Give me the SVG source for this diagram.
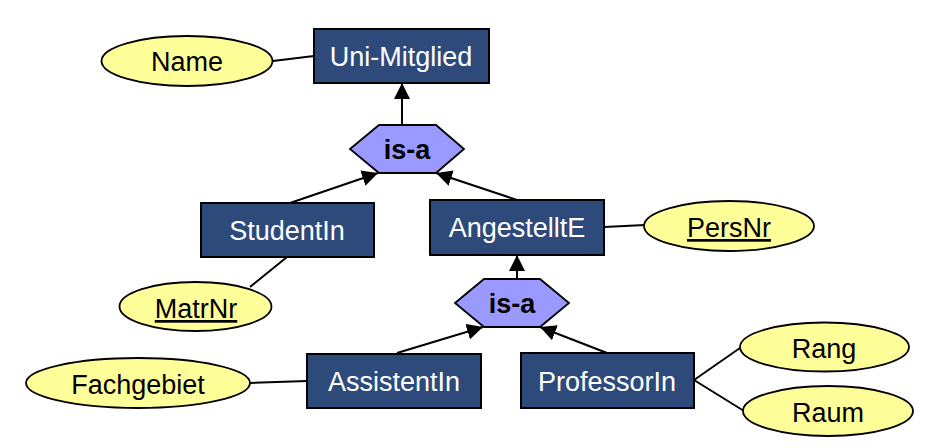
<svg xmlns="http://www.w3.org/2000/svg" width="932" height="448" viewBox="0 0 932 448">
<style>
.ent{fill:#2D4A7B;stroke:#000;stroke-width:2}
.att{fill:#FFFF99;stroke:#000;stroke-width:1.8}
.isa{fill:#9999FF;stroke:#000;stroke-width:1.8}
.lbl{font-family:"Liberation Sans",Arial,sans-serif;font-size:27px;text-anchor:middle}
.w{fill:#fff}
.b{fill:#000}
.bold{font-weight:bold}
.u{text-decoration:underline}
.con{stroke:#000;stroke-width:2;fill:none}
.arr{marker-end:url(#ah)}
</style>
<defs>
<marker id="ah" markerUnits="userSpaceOnUse" markerWidth="16" markerHeight="16" refX="16" refY="8" orient="auto">
<path d="M0,0 L16,8 L0,16 z" fill="#000"/>
</marker>
</defs>
<g id="connectors">
<line class="con" x1="273" y1="61" x2="314" y2="56"/>
<line class="con arr" x1="402" y1="125" x2="402" y2="83"/>
<line class="con arr" x1="290" y1="203" x2="378" y2="173"/>
<line class="con arr" x1="517" y1="200" x2="436" y2="173"/>
<line class="con" x1="287" y1="257" x2="250" y2="287"/>
<line class="con" x1="604" y1="227" x2="645" y2="225"/>
<line class="con arr" x1="517" y1="279" x2="517" y2="255"/>
<line class="con arr" x1="397" y1="353" x2="483" y2="327"/>
<line class="con arr" x1="607" y1="353" x2="540" y2="327"/>
<line class="con" x1="250" y1="383" x2="307" y2="381"/>
<line class="con" x1="694" y1="380" x2="740" y2="348"/>
<line class="con" x1="694" y1="380" x2="744" y2="411"/>
</g>
<g id="uni-mitglied"><rect class="ent" x="314" y="29" width="175" height="54"/><text class="lbl w" x="401" y="66">Uni-Mitglied</text></g>
<g id="name"><ellipse class="att" cx="187" cy="61" rx="85.5" ry="25"/><text class="lbl b" x="187" y="71">Name</text></g>
<g id="isa1"><polygon class="isa" points="350,149 379,125 436,125 464,149 436,173 379,173"/><text class="lbl b bold" x="407" y="159">is-a</text></g>
<g id="studentin"><rect class="ent" x="201" y="203" width="173" height="54"/><text class="lbl w" x="287" y="240">StudentIn</text></g>
<g id="angestellte"><rect class="ent" x="430" y="200" width="174" height="55"/><text class="lbl w" x="517" y="237">AngestelltE</text></g>
<g id="matrnr"><ellipse class="att" cx="195.5" cy="306.5" rx="76" ry="24.5"/><text class="lbl b u" x="196" y="318">MatrNr</text></g>
<g id="persnr"><ellipse class="att" cx="729" cy="226" rx="85" ry="25"/><text class="lbl b u" x="729" y="237">PersNr</text></g>
<g id="isa2"><polygon class="isa" points="455,303 484,279 540,279 569,303 540,327 484,327"/><text class="lbl b bold" x="512" y="313">is-a</text></g>
<g id="assistentin"><rect class="ent" x="307" y="354" width="174" height="54"/><text class="lbl w" x="394" y="391">AssistentIn</text></g>
<g id="professorin"><rect class="ent" x="521" y="353" width="173" height="55"/><text class="lbl w" x="607" y="391">ProfessorIn</text></g>
<g id="fachgebiet"><ellipse class="att" cx="138" cy="383" rx="112" ry="25"/><text class="lbl b" x="138" y="394">Fachgebiet</text></g>
<g id="rang"><ellipse class="att" cx="824.5" cy="347" rx="84.5" ry="24.5"/><text class="lbl b" x="824" y="358">Rang</text></g>
<g id="raum"><ellipse class="att" cx="828" cy="411" rx="85" ry="25"/><text class="lbl b" x="828" y="422">Raum</text></g>
</svg>
